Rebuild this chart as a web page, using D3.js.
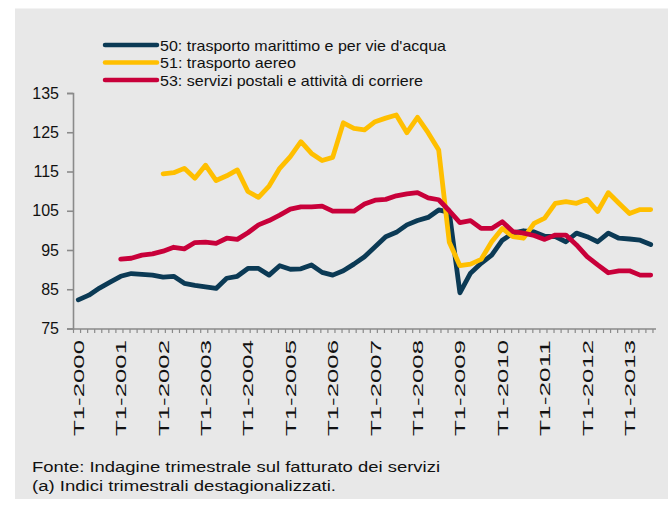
<!DOCTYPE html>
<html>
<head>
<meta charset="utf-8">
<script src="https://cdn.jsdelivr.net/npm/d3@7"></script>
<style>
  body { margin: 0; background: #fff; }
  svg { display: block; font-family: "Liberation Sans", Arial, Helvetica, sans-serif; }
</style>
</head>
<body>
<svg id="chart" width="668" height="506"></svg>
<script>
// quarterly indices, T1-2000 .. T3-2013 (null = no data)
const series50 = [82.3, 83.5, 85.3, 86.8, 88.3, 89.0, 88.8, 88.6, 88.1, 88.3,
  86.5, 86.0, 85.6, 85.2, 87.8, 88.3, 90.3, 90.3, 88.6, 91.0,
  90.1, 90.2, 91.2, 89.3, 88.6, 89.7, 91.4, 93.3, 95.8, 98.4,
  99.5, 101.4, 102.5, 103.3, 105.2, 104.6, 84.1, 89.1, 91.6, 93.7,
  97.5, 99.3, 99.9, 99.6, 98.5, 98.4, 97.1, 99.3, 98.4, 97.1,
  99.3, 98.0, 97.8, 97.5, 96.4]
const series51 = [null, null, null, null, null, null, null, null, 114.4, 114.7,
  115.8, 113.3, 116.6, 112.7, 113.9, 115.4, 109.9, 108.4, 111.3, 115.8,
  118.8, 122.6, 119.6, 117.8, 118.6, 127.4, 126.0, 125.6, 127.7, 128.6,
  129.4, 124.9, 128.8, 124.9, 120.5, 97.0, 91.0, 91.4, 92.6, 97.1,
  100.5, 98.4, 98.0, 101.8, 103.1, 106.9, 107.3, 106.9, 107.9, 104.8,
  109.6, 106.9, 104.3, 105.3, 105.3]
const series53 = [null, null, null, null, 92.7, 92.9, 93.7, 94.0, 94.7, 95.7,
  95.3, 96.9, 97.0, 96.7, 98.0, 97.7, 99.4, 101.4, 102.5, 103.9,
  105.4, 106.0, 106.0, 106.2, 104.9, 104.9, 104.9, 106.7, 107.7, 107.9,
  108.8, 109.3, 109.6, 108.3, 107.8, 105.0, 102.0, 102.5, 100.5, 100.5,
  102.2, 99.7, 99.3, 98.7, 97.7, 98.8, 98.8, 96.3, 93.3, 91.2,
  89.2, 89.7, 89.7, 88.6, 88.6]

const seriesNames = ["50: trasporto marittimo e per vie d'acqua", "51: trasporto aereo",
  "53: servizi postali e attività di corriere"]
const seriesColors = ["#0b3a55", "#ffbf00", "#c8003a"]
const yTicks = [75, 85, 95, 105, 115, 125, 135]
const xTickLabels = ["T1-2000", "T1-2001", "T1-2002", "T1-2003", "T1-2004", "T1-2005", "T1-2006",
  "T1-2007", "T1-2008", "T1-2009", "T1-2010", "T1-2011", "T1-2012", "T1-2013"]
const notes = ["Fonte: Indagine trimestrale sul fatturato dei servizi",
  "(a) Indici trimestrali destagionalizzati."]

const svg = d3.select("#chart")

svg.append("rect")
  .attr("x", 15).attr("y", 8.5)
  .attr("width", 653).attr("height", 490.5)
  .attr("fill", "#e8e8e8")

// x in months from Jan 2000; each quarter point sits mid-quarter
const nMonths = series50.length * 3
const x = d3.scaleLinear().domain([0, nMonths]).range([73, 656])
const y = d3.scaleLinear().domain([75, 135]).range([328.5, 93])
const qx = i => x(i * 3 + 1.5)

// y axis
const yAxis = d3.axisLeft(y).tickValues(yTicks).tickSize(6).tickPadding(8)
const yG = svg.append("g").attr("transform", "translate(73,0)").call(yAxis)
yG.select(".domain").attr("stroke", "#8a8a8a").attr("stroke-width", 1.6)
yG.selectAll(".tick line").attr("stroke", "#8a8a8a").attr("stroke-width", 1.6)
yG.selectAll(".tick text").attr("font-size", 16).attr("fill", "#111")
  .style("font-family", "'Liberation Sans', Arial, sans-serif")

// x axis: ticks every two months, labels at first quarters
const xAxis = d3.axisBottom(x)
  .tickValues(d3.range(0, nMonths, 2))
  .tickSize(4)
  .tickFormat("")
const xG = svg.append("g").attr("transform", "translate(0,329)").call(xAxis)
xG.select(".domain").attr("stroke", "#8a8a8a").attr("stroke-width", 1.6)
  .attr("d", `M73,0H656`)
xG.selectAll(".tick line").attr("stroke", "#8a8a8a").attr("stroke-width", 1.2)

svg.append("g").selectAll("text")
  .data(xTickLabels)
  .enter()
  .append("text")
  .attr("transform", (d, i) => `translate(${qx(i * 4)},340) rotate(-90)`)
  .attr("text-anchor", "end")
  .attr("dy", "0.36em")
  .attr("font-size", 15)
  .attr("fill", "#111")
  .attr("textLength", 96)
  .attr("lengthAdjust", "spacingAndGlyphs")
  .text(d => d)

// lines
const line = d3.line()
  .defined(d => d != null)
  .x((d, i) => qx(i))
  .y(d => y(d))

const allSeries = [series50, series51, series53]
svg.append("g").selectAll("path")
  .data(allSeries)
  .enter()
  .append("path")
  .attr("d", line)
  .attr("fill", "none")
  .attr("stroke", (d, i) => seriesColors[i])
  .attr("stroke-width", 4.8)
  .attr("stroke-linejoin", "round")
  .attr("stroke-linecap", "round")

// legend
const legendWidths = [286, 136, 263]
const legendG = svg.append("g").selectAll("g")
  .data(seriesNames)
  .enter()
  .append("g")
  .attr("transform", (d, i) => `translate(0,${45 + i * 17.5})`)

legendG.append("line")
  .attr("x1", 105).attr("x2", 157)
  .attr("stroke", (d, i) => seriesColors[i])
  .attr("stroke-width", 4.5)
  .attr("stroke-linecap", "round")

legendG.append("text")
  .attr("x", 160)
  .attr("y", 5.5)
  .attr("font-size", 15)
  .attr("fill", "#111")
  .attr("textLength", (d, i) => legendWidths[i])
  .attr("lengthAdjust", "spacingAndGlyphs")
  .text(d => d)

// notes
const noteWidths = [408, 304]
svg.append("g").selectAll("text")
  .data(notes)
  .enter()
  .append("text")
  .attr("x", 32)
  .attr("y", (d, i) => 472 + i * 19)
  .attr("font-size", 15.5)
  .attr("fill", "#111")
  .attr("textLength", (d, i) => noteWidths[i])
  .attr("lengthAdjust", "spacingAndGlyphs")
  .text(d => d)
</script>
</body>
</html>
